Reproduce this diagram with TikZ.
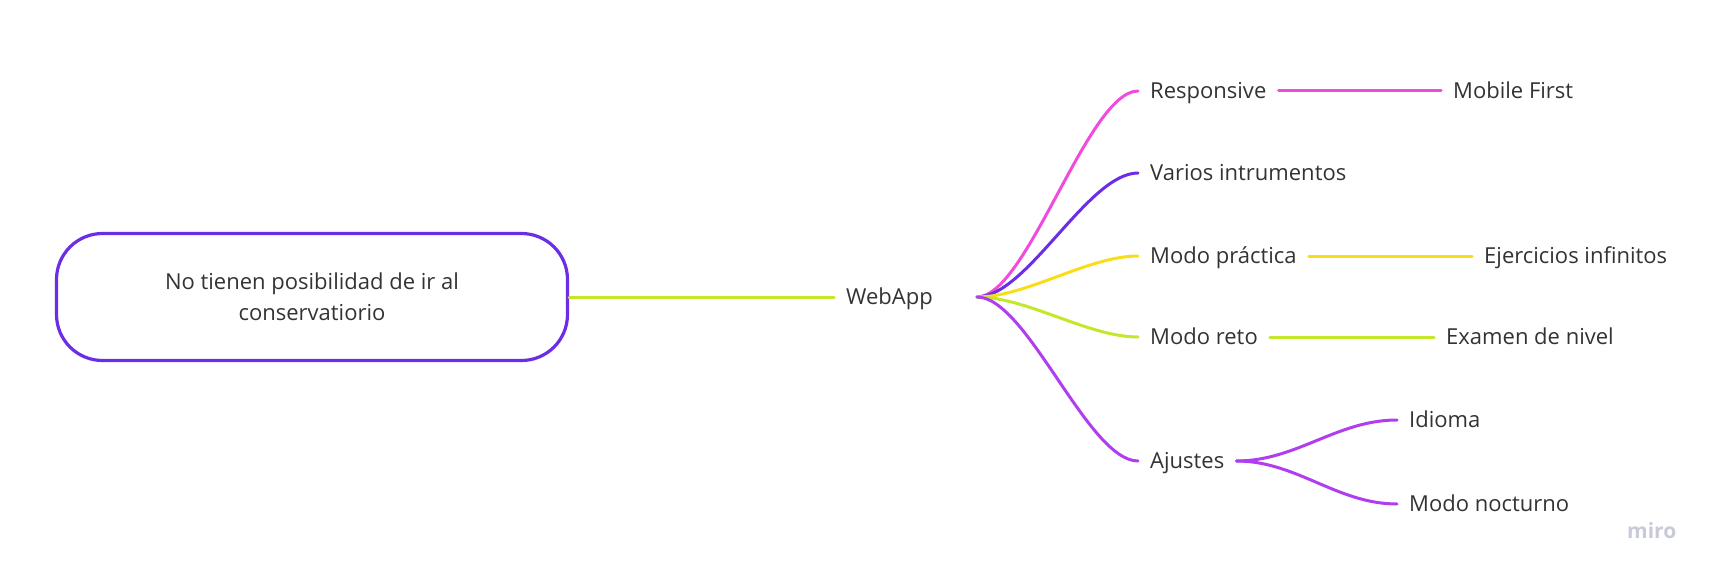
\documentclass[tikz,border=0pt]{standalone}
\usepackage{fontspec}
\setmainfont{Open Sans}
\definecolor{cpink}{HTML}{F04BDC}
\definecolor{cpurple}{HTML}{6B2EE6}
\definecolor{cyellow}{HTML}{F9DD17}
\definecolor{clime}{HTML}{C3E82B}
\definecolor{cviolet}{HTML}{B03EEF}
\definecolor{ctext}{HTML}{333333}
\definecolor{cmiro}{HTML}{C8CAD8}
\begin{document}
\begin{tikzpicture}[x=1pt,y=-1pt,
  lbl/.style={font=\fontsize{22}{30}\selectfont, text=ctext, inner xsep=12pt, inner ysep=0pt,
              text height=15.7pt, text depth=0pt, anchor=west},
  conn/.style={line width=3pt, line cap=round},
  branch/.style={conn, to path={.. controls +(50,0) and +(-50,0) .. (\tikztotarget)}},
  subbranch/.style={conn, to path={.. controls +(60,0) and +(-60,0) .. (\tikztotarget)}}
]
\useasboundingbox (0,0) rectangle (1721,580);
\node[draw=cpurple, line width=3.2pt, rounded corners=46pt, minimum width=511pt, minimum height=127pt,
      align=center, font=\fontsize{22}{31}\selectfont, text=ctext] (root) at (312,297)
      {No tienen posibilidad de ir al\\conservatiorio};
\node[lbl] (web) at (834,297) {WebApp};
\coordinate (wo) at (977,297);
\node[lbl] (resp) at (1138,91) {Responsive};
\node[lbl] (mf) at (1441,91) {Mobile First};
\node[lbl] (var) at (1138,173) {Varios intrumentos};
\node[lbl] (prac) at (1138,256) {Modo práctica};
\node[lbl] (ej) at (1472,256) {Ejercicios infinitos};
\node[lbl] (reto) at (1138,337) {Modo reto};
\node[lbl] (ex) at (1434,337) {Examen de nivel};
\node[lbl] (aj) at (1138,461) {Ajustes};
\node[lbl] (id) at (1397,420) {Idioma};
\node[lbl] (noc) at (1397,504) {Modo nocturno};
\node[font=\fontsize{21}{21}\selectfont\bfseries, text=cmiro, anchor=base west, inner sep=0pt] (miro) at (1627,538) {miro};

\draw[conn, clime] (root.east) -- (web.west);
\draw[branch, cpink] (wo) to (resp.west);
\draw[branch, cpurple] (wo) to (var.west);
\draw[branch, cyellow] (wo) to (prac.west);
\draw[branch, clime] (wo) to (reto.west);
\draw[branch, cviolet] (wo) to (aj.west);
\draw[conn, cpink] (resp.east) -- (mf.west);
\draw[conn, cyellow] (prac.east) -- (ej.west);
\draw[conn, clime] (reto.east) -- (ex.west);
\draw[subbranch, cviolet] (aj.east) to (id.west);
\draw[subbranch, cviolet] (aj.east) to (noc.west);
\end{tikzpicture}
\end{document}
